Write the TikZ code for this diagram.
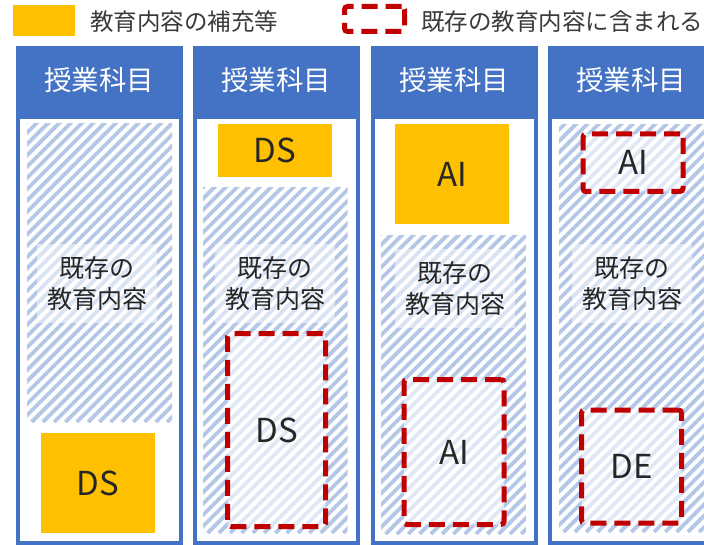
\documentclass[tikz,border=0pt]{standalone}
\usepackage{fontspec}
\setmainfont{Noto Sans CJK JP}
\definecolor{hblue}{HTML}{4472C4}
\definecolor{stripe}{HTML}{B4C7E7}
\definecolor{gold}{HTML}{FFC000}
\definecolor{dred}{HTML}{C00000}
\definecolor{txt}{HTML}{262626}
\definecolor{legtxt}{HTML}{3A3A3A}
\tikzset{
  colbody/.style={draw=hblue, line width=3.5pt, fill=white, minimum width=163pt, minimum height=426pt, inner sep=0pt},
  colhead/.style={fill=hblue, minimum width=166.5pt, minimum height=71pt, inner sep=0pt},
  headtext/.style={text=white, font=\fontsize{27.5}{32}\selectfont, inner sep=0pt},
  hatchbox/.style={inner sep=0pt, path picture={
      \foreach \k in {0,...,66} \draw[stripe, line width=3.8pt]
        ([xshift=\k*11.3pt-470pt]path picture bounding box.south west) -- ++(640pt,640pt);}},
  latin/.style={font=\fontsize{33}{36}\selectfont, text=txt},
  yellowbox/.style={fill=gold, inner sep=0pt, latin},
  dashbox/.style={draw=dred, line width=5pt, dash pattern=on 16pt off 8pt, rounded corners=3pt,
      fill=white, fill opacity=0.6, draw opacity=1, text opacity=1, inner sep=0pt, latin},
  labelbox/.style={fill=white, fill opacity=0.5, text opacity=1, align=center, minimum width=120pt,
      minimum height=78pt, inner sep=0pt, font=\fontsize{25}{31}\selectfont, text=txt},
  legendtext/.style={anchor=west, inner sep=0pt, text=legtxt, font=\fontsize{23.5}{28}\selectfont},
}
\begin{document}
\begin{tikzpicture}[x=1pt, y=-1pt]
\useasboundingbox (0,0) rectangle (704,545);
\fill[white] (0,0) rectangle (704,545);
\clip (0,0) rectangle (704,545);

% legend
\node[fill=gold, minimum width=62pt, minimum height=31pt, inner sep=0pt] (legY) at (44,21) {};
\node[legendtext] (legYt) at (90,22) {教育内容の補充等};
\node[draw=dred, line width=5pt, dash pattern=on 16pt off 8pt, rounded corners=3pt,
      minimum width=60pt, minimum height=25pt, inner sep=0pt] (legD) at (374.5,19) {};
\node[legendtext] (legDt) at (421,22) {既存の教育内容に含まれる};

% column bodies
\node[colbody] (b1) at (99.25,330) {};
\node[colbody] (b2) at (276.25,330) {};
\node[colbody] (b3) at (454.25,330) {};
\node[colbody] (b4) at (631.25,330) {};

% headers
\node[colhead] (hd1) at (99.25,81.5) {};
\node[colhead] (hd2) at (276.25,81.5) {};
\node[colhead] (hd3) at (454.25,81.5) {};
\node[colhead] (hd4) at (631.25,81.5) {};
\node[headtext] (ht1) at (99.25,80) {授業科目};
\node[headtext] (ht2) at (276.25,80) {授業科目};
\node[headtext] (ht3) at (454.25,80) {授業科目};
\node[headtext] (ht4) at (631.25,80) {授業科目};

% hatched areas (existing content)
\node[hatchbox, minimum width=145pt, minimum height=298pt] (h1) at (99.5,273) {};
\node[hatchbox, minimum width=144.5pt, minimum height=345pt] (h2) at (275.25,360.5) {};
\node[hatchbox, minimum width=144.7pt, minimum height=298pt] (h3) at (453.4,385) {};
\node[hatchbox, minimum width=145pt, minimum height=407pt] (h4) at (631.5,328.5) {};

% labels
\node[labelbox] (l1) at (97,283.5) {既存の\\教育内容};
\node[labelbox] (l2) at (275,283.5) {既存の\\教育内容};
\node[labelbox] (l3) at (455,288.5) {既存の\\教育内容};
\node[labelbox] (l4) at (632,283.5) {既存の\\教育内容};

% supplements
\node[yellowbox, minimum width=114pt, minimum height=100pt] (y1) at (98,483) {DS};
\node[yellowbox, minimum width=114pt, minimum height=53pt] (y2) at (275,150.5) {DS};
\node[yellowbox, minimum width=114pt, minimum height=100pt] (y3) at (452,174) {AI};

% included in existing
\node[dashbox, minimum width=98pt, minimum height=193pt] (d2) at (276.5,430) {DS};
\node[dashbox, minimum width=100pt, minimum height=145pt] (d3) at (454,452) {AI};
\node[dashbox, minimum width=100pt, minimum height=57.5pt] (d4a) at (633,162.75) {AI};
\node[dashbox, minimum width=100pt, minimum height=113pt] (d4b) at (631.5,466.5) {DE};
\end{tikzpicture}
\end{document}
